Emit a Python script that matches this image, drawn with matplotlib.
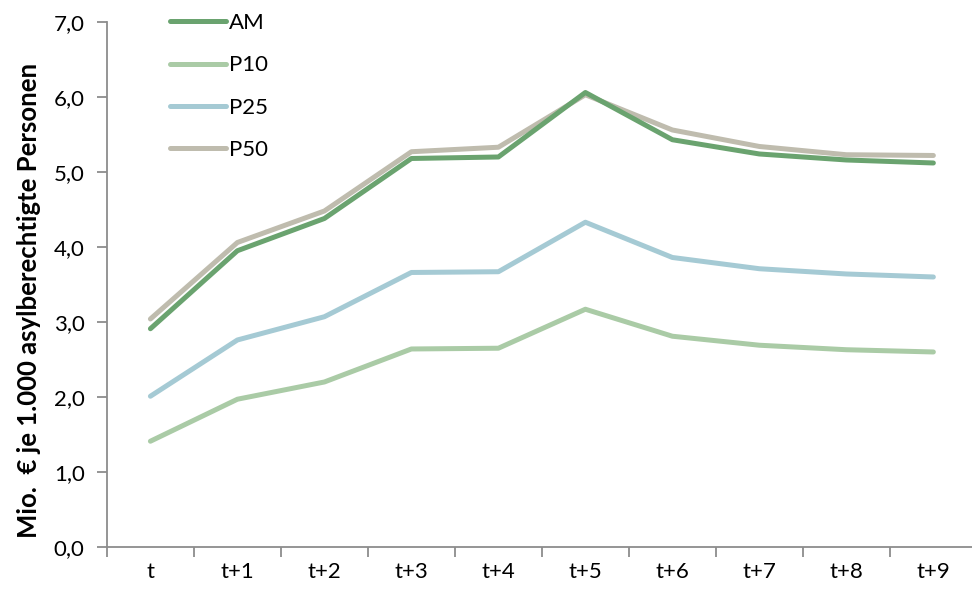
import matplotlib
matplotlib.use("Agg")
import matplotlib.pyplot as plt
from matplotlib.ticker import FuncFormatter

periods = ["t", "t+1", "t+2", "t+3", "t+4", "t+5", "t+6", "t+7", "t+8", "t+9"]
am = [2.91, 3.95, 4.38, 5.18, 5.20, 6.06, 5.43, 5.24, 5.16, 5.12]
p10 = [1.41, 1.97, 2.20, 2.64, 2.65, 3.17, 2.81, 2.69, 2.63, 2.60]
p25 = [2.01, 2.76, 3.07, 3.66, 3.67, 4.33, 3.86, 3.71, 3.64, 3.60]
p50 = [3.04, 4.06, 4.48, 5.27, 5.33, 6.03, 5.56, 5.34, 5.23, 5.22]

plt.rcParams['font.family'] = ['Lato', 'DejaVu Sans']

fig = plt.figure(figsize=(9.72, 5.91), dpi=100)
ax = fig.add_axes([0.110, 0.0745, 0.895, 0.8883])

x = range(len(periods))
lw = 3.6
ax.plot(x, am, color='#6aa36f', lw=lw, label='AM', solid_capstyle='round', zorder=3)
ax.plot(x, p10, color='#aacba6', lw=lw, label='P10', solid_capstyle='round', zorder=2)
ax.plot(x, p25, color='#a5cad4', lw=lw, label='P25', solid_capstyle='round', zorder=2)
ax.plot(x, p50, color='#bfbcae', lw=lw, label='P50', solid_capstyle='round', zorder=2)

ax.set_xlim(-0.5, 9.5)
ax.set_ylim(0, 7)
ax.set_yticks([0, 1, 2, 3, 4, 5, 6, 7])
ax.yaxis.set_major_formatter(FuncFormatter(lambda v, p: f"{v:.1f}".replace('.', ',')))

# category labels centered, ticks on boundaries
ax.set_xticks([i + 0.5 for i in range(-1, 10)])
ax.set_xticklabels([])
ax.set_xticks(list(x), minor=True)
ax.set_xticklabels(periods, minor=True)
ax.tick_params(axis='x', which='minor', length=0, pad=11, labelsize=16)
ax.tick_params(axis='x', which='major', length=7, width=1.3, color='#8c8c8c', direction='out')
ax.tick_params(axis='y', length=7, width=1.3, color='#8c8c8c', direction='out', labelsize=16, pad=9)

for s in ['top', 'right']:
    ax.spines[s].set_visible(False)
for s in ['left', 'bottom']:
    ax.spines[s].set_color('#8c8c8c')
    ax.spines[s].set_linewidth(1.3)

ax.set_ylabel("Mio.  € je 1.000 asylberechtigte Personen", fontsize=18.5,
              fontweight='bold')
ax.yaxis.set_label_coords(-0.076, 0.47)

leg = ax.legend(loc='upper left', bbox_to_anchor=(0.05, 1.055), frameon=False,
                fontsize=16, handlelength=2.5, handletextpad=0.15, labelspacing=1.0)

fig.savefig("out.png", dpi=100)
